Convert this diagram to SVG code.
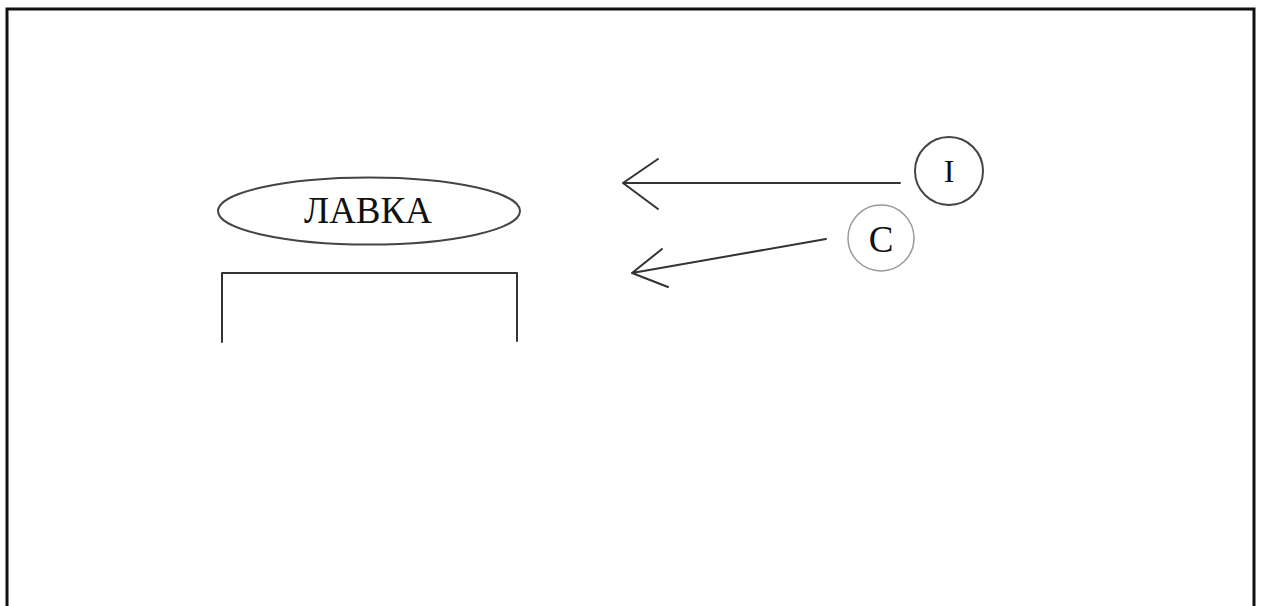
<svg xmlns="http://www.w3.org/2000/svg" width="1261" height="606" viewBox="0 0 1261 606">
<style>
.ln{fill:none;stroke:#333;stroke-width:2;stroke-linecap:round;stroke-linejoin:round}
.t{font-family:"Liberation Serif","Times New Roman",serif;fill:#111;text-anchor:middle}
</style>
<rect width="1261" height="606" fill="#fff"/>
<path d="M7,620 V9 H1254 V620" fill="none" stroke="#111" stroke-width="3"/>
<g id="lavka">
<ellipse cx="369" cy="211" rx="151" ry="33.5" fill="#fff" stroke="#444" stroke-width="2"/>
<text class="t" x="368" y="223" font-size="37">ЛАВКА</text>
</g>
<g id="box">
<path class="ln" d="M222,342 V273 H517 V341"/>
</g>
<g id="nodeI">
<circle cx="949" cy="171" r="34" fill="#fff" stroke="#444" stroke-width="2"/>
<text class="t" x="949" y="182" font-size="32">I</text>
</g>
<g id="nodeC">
<circle cx="881" cy="238" r="33" fill="#fff" stroke="#999" stroke-width="1.5"/>
<text class="t" x="881" y="252" font-size="37">C</text>
</g>
<g id="connectors">
<path class="ln" d="M900,183 H623 M658,159 L623,183 L658,209"/>
<path class="ln" d="M826,239 L632,273 M662,249 L632,273 L668,287"/>
</g>
</svg>
